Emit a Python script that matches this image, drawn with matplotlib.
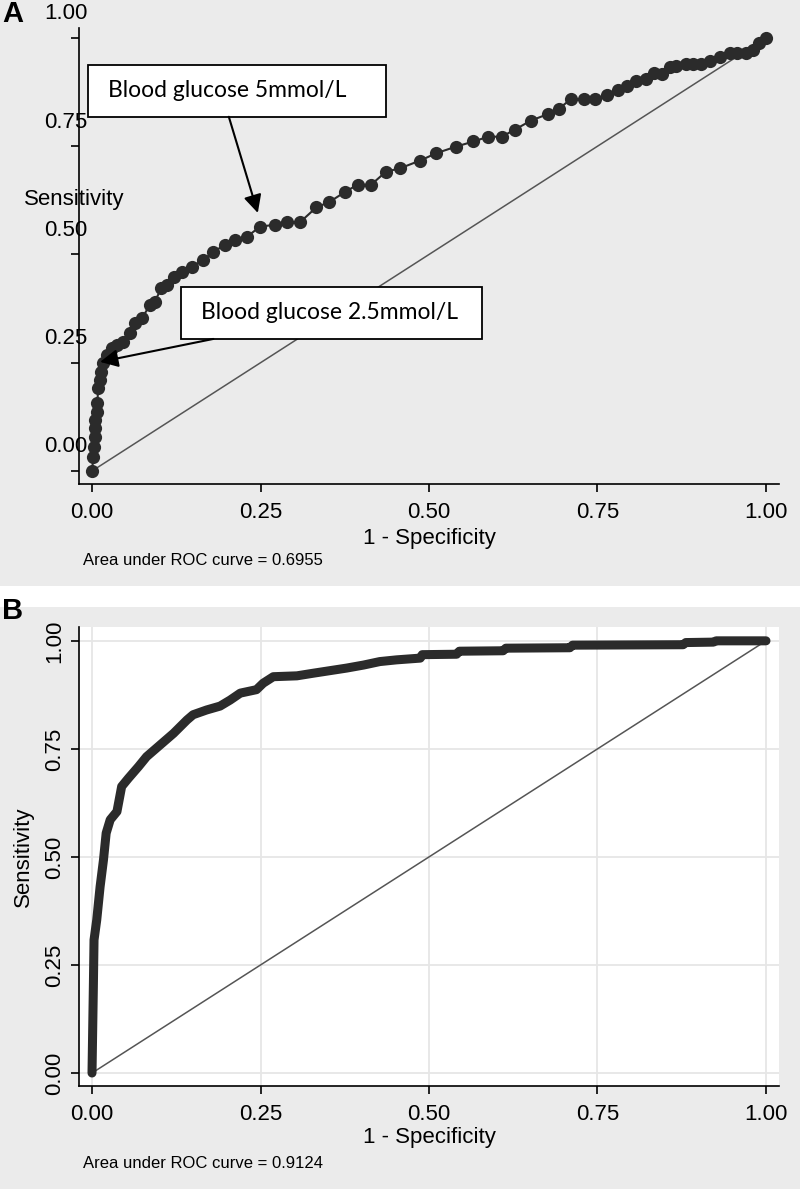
import matplotlib
matplotlib.use("Agg")
import matplotlib.pyplot as plt
from matplotlib.patches import Rectangle

plt.rcParams['font.family'] = ['Liberation Sans', 'DejaVu Sans']

# --- DATA ---
# panel A: blood glucose ROC (1 - specificity, sensitivity)
fpr_a = [0.0, 0.002, 0.003, 0.004, 0.005, 0.005, 0.007, 0.008, 0.009, 0.012,
         0.014, 0.017, 0.022, 0.029, 0.037, 0.046, 0.056, 0.064, 0.074, 0.086,
         0.093, 0.103, 0.111, 0.121, 0.133, 0.148, 0.165, 0.180, 0.197, 0.212,
         0.230, 0.249, 0.272, 0.289, 0.309, 0.333, 0.352, 0.376, 0.394, 0.414,
         0.436, 0.457, 0.487, 0.511, 0.540, 0.566, 0.588, 0.608, 0.627, 0.651,
         0.676, 0.693, 0.710, 0.730, 0.747, 0.764, 0.780, 0.794, 0.807, 0.822,
         0.834, 0.846, 0.858, 0.866, 0.881, 0.892, 0.904, 0.917, 0.932, 0.947,
         0.957, 0.971, 0.981, 0.989, 1.0]
tpr_a = [0.0, 0.033, 0.056, 0.079, 0.099, 0.118, 0.137, 0.156, 0.191, 0.210,
         0.229, 0.249, 0.268, 0.283, 0.291, 0.299, 0.318, 0.341, 0.353, 0.383,
         0.391, 0.422, 0.430, 0.449, 0.460, 0.472, 0.487, 0.506, 0.522, 0.533,
         0.541, 0.564, 0.569, 0.574, 0.575, 0.609, 0.621, 0.645, 0.661, 0.661,
         0.691, 0.699, 0.717, 0.734, 0.749, 0.761, 0.772, 0.772, 0.788, 0.809,
         0.824, 0.837, 0.858, 0.858, 0.858, 0.868, 0.880, 0.889, 0.901, 0.906,
         0.918, 0.917, 0.934, 0.935, 0.939, 0.939, 0.939, 0.947, 0.957, 0.965,
         0.965, 0.965, 0.972, 0.988, 1.0]

# panel B: model ROC
fpr_b = [0.0, 0.001, 0.002, 0.003, 0.007, 0.012, 0.017, 0.021, 0.027, 0.037,
         0.044, 0.054, 0.069, 0.081, 0.101, 0.121, 0.141, 0.150, 0.170, 0.190,
         0.205, 0.220, 0.244, 0.254, 0.269, 0.304, 0.328, 0.353, 0.378, 0.403,
         0.427, 0.452, 0.487, 0.490, 0.541, 0.545, 0.610, 0.614, 0.709, 0.713,
         0.877, 0.881, 0.922, 0.926, 1.0]
tpr_b = [0.0, 0.100, 0.199, 0.308, 0.354, 0.431, 0.493, 0.555, 0.586, 0.605,
         0.663, 0.682, 0.709, 0.732, 0.759, 0.786, 0.817, 0.829, 0.840, 0.849,
         0.863, 0.879, 0.887, 0.902, 0.917, 0.919, 0.925, 0.931, 0.937, 0.944,
         0.952, 0.956, 0.960, 0.968, 0.969, 0.976, 0.977, 0.983, 0.984, 0.990,
         0.991, 0.996, 0.997, 1.0, 1.0]

ticks = [0.0, 0.25, 0.5, 0.75, 1.0]
tick_labels = ["0.00", "0.25", "0.50", "0.75", "1.00"]
auc_a = "Area under ROC curve = 0.6955"
auc_b = "Area under ROC curve = 0.9124"
notes = ["Blood glucose 5mmol/L", "Blood glucose 2.5mmol/L"]

GRAY = '#ebebeb'
DARK = '#2b2b2b'
W, H = 800, 1189

fig = plt.figure(figsize=(8, 11.89), dpi=100)
fig.patch.set_facecolor('white')
fig.patches.append(Rectangle((0, 1 - 586 / H), 1, 586 / H, transform=fig.transFigure,
                             facecolor=GRAY, edgecolor='none', zorder=-10))
fig.patches.append(Rectangle((0, 0), 1, 1 - 607 / H, transform=fig.transFigure,
                             facecolor=GRAY, edgecolor='none', zorder=-10))


def style_axes(ax):
    for s in ['top', 'right']:
        ax.spines[s].set_visible(False)
    for s in ['left', 'bottom']:
        ax.spines[s].set_linewidth(1.2)
        ax.spines[s].set_color('black')
    ax.set_xlim(-0.0193, 1.0193)
    ax.set_xticks(ticks)
    ax.set_xticklabels(tick_labels)
    ax.set_yticks(ticks)
    ax.tick_params(direction='out', length=6, width=1.2, labelsize=16, pad=7)


# --- Panel A ---
axA = fig.add_axes([79 / W, 1 - 484 / H, 700 / W, 456 / H])
axA.set_facecolor(GRAY)
style_axes(axA)
axA.set_ylim(-0.030, 1.023)
axA.set_yticklabels([])
for v, lab in zip(ticks, tick_labels):
    # labels sit above and right of their ticks, as in the original
    axA.annotate(lab, xy=(0, v), xycoords=('axes fraction', 'data'),
                 xytext=(-9.4, 17.3), textcoords='offset points',
                 ha='center', va='center', fontsize=16, annotation_clip=False)
axA.plot([0, 1], [0, 1], color='#555555', lw=1.1, zorder=2)
axA.plot(fpr_a, tpr_a, color=DARK, lw=1.5, marker='o', markersize=9.5,
         markeredgewidth=0, zorder=3)
axA.text(-0.007, 0.625, "Sensitivity", transform=axA.transAxes, ha='center',
         va='center', fontsize=16)
axA.set_xlabel("1 - Specificity", fontsize=16)
axA.xaxis.set_label_coords(0.5, -(538 - 484) / 456)
axA.xaxis.label.set_va('center')

# annotation boxes
box1 = (-0.006, 0.818, 0.442, 0.120)
box2 = (0.132, 0.305, 0.447, 0.120)
for (bx, by, bw, bh), txt in zip([box1, box2], notes):
    axA.add_patch(Rectangle((bx, by), bw, bh, facecolor='white', edgecolor='black',
                            lw=1.3, zorder=5, clip_on=False))
    axA.text(bx + 0.029, by + bh / 2, txt, ha='left', va='center', fontsize=16.5,
             family=['Lato', 'DejaVu Sans'], zorder=6)
arrow_kw = dict(arrowstyle='-|>,head_length=0.6,head_width=0.3', color='black',
                lw=1.5, mutation_scale=18, shrinkA=0, shrinkB=0)
axA.annotate('', xy=(0.246, 0.596), xytext=(0.203, 0.818), arrowprops=arrow_kw, zorder=7)
axA.annotate('', xy=(0.012, 0.252), xytext=(0.180, 0.305), arrowprops=arrow_kw, zorder=7)

fig.text(83 / W, 1 - 560 / H, auc_a, ha='left', va='center', fontsize=12)
fig.text(2 / W, 1 - 14 / H, "A", ha='left', va='center', fontsize=21, fontweight='bold')

# --- Panel B ---
axB = fig.add_axes([79 / W, 1 - 1086 / H, 700 / W, 459 / H])
axB.set_facecolor('white')
style_axes(axB)
axB.set_ylim(-0.030, 1.032)
axB.set_yticklabels(tick_labels, rotation=90, va='center')
axB.tick_params(axis='y', pad=4)
axB.grid(True, color='#e6e6e6', lw=1.3)
axB.set_axisbelow(True)
axB.plot([0, 1], [0, 1], color='#555555', lw=1.1, zorder=2)
axB.plot(fpr_b, tpr_b, color=DARK, lw=6.5, solid_capstyle='round',
         solid_joinstyle='round', zorder=3)
axB.set_ylabel("Sensitivity", fontsize=16)
axB.yaxis.set_label_coords(-(79 - 23) / 700, 0.5)
axB.yaxis.label.set_va('center')
axB.set_xlabel("1 - Specificity", fontsize=16)
axB.xaxis.set_label_coords(0.5, -(1137 - 1086) / 459)
axB.xaxis.label.set_va('center')

fig.text(83 / W, 1 - 1163 / H, auc_b, ha='left', va='center', fontsize=12)
fig.text(2 / W, 1 - 611 / H, "B", ha='left', va='center', fontsize=21, fontweight='bold')

fig.savefig("out.png", dpi=100)
